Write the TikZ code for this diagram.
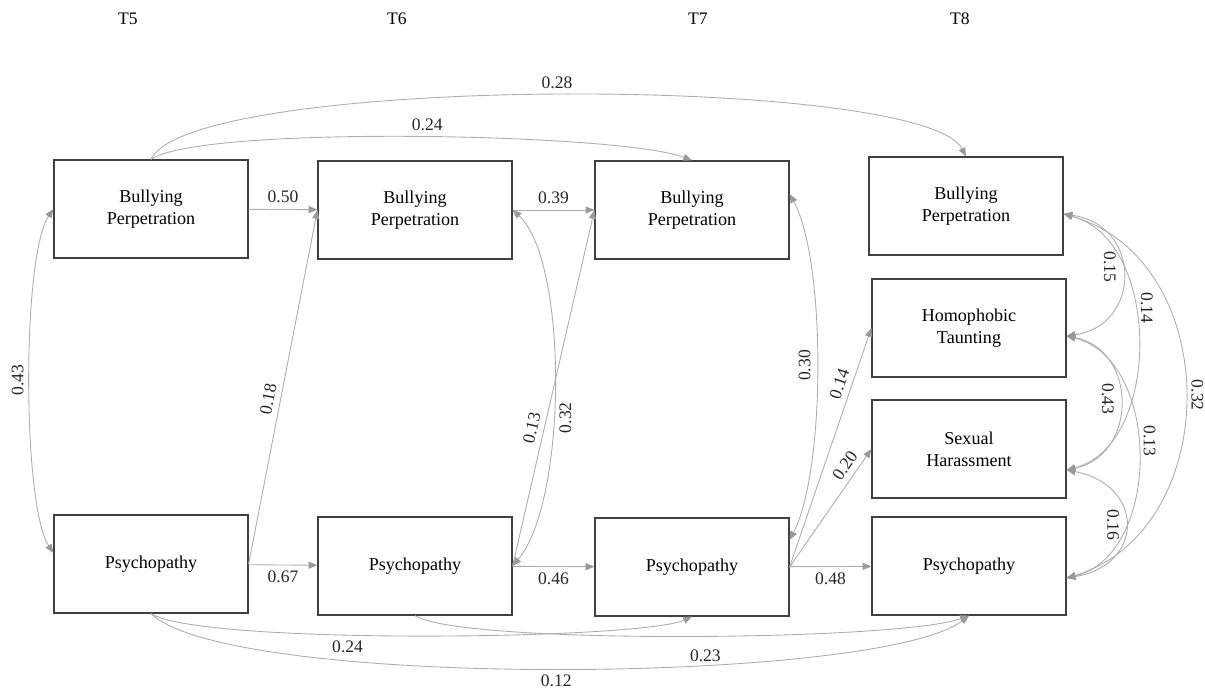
\documentclass[tikz,border=0pt]{standalone}
\usepackage{fontspec}
\setmainfont{Liberation Serif}
\usetikzlibrary{arrows.meta}

\definecolor{pathgray}{HTML}{ADADAD}
\definecolor{tipgray}{HTML}{999999}

\begin{document}
\begin{tikzpicture}[
    x=0.02cm, y=-0.02cm,
    box/.style={
        draw=black!75,
        line width=0.7pt,
        align=center,
        minimum width=3.88cm,
        minimum height=1.96cm,
        inner sep=0pt,
        font=\fontsize{10.3}{12.4}\selectfont
    },
    wave/.style={
        font=\fontsize{10}{12}\selectfont
    },
    coef/.style={
        text=black!85,
        font=\fontsize{10}{12}\selectfont
    },
    arrow/.style={
        -{Triangle[length=5pt,width=4pt,color=tipgray]},
        draw=pathgray,
        line width=0.5pt
    },
    cov/.style={
        {Triangle[length=5pt,width=4pt,color=tipgray]}-{Triangle[length=5pt,width=4pt,color=tipgray]},
        draw=pathgray,
        line width=0.5pt
    }
]

\useasboundingbox (0,0) rectangle (1205,694);

% waves
\node[wave] (t5) at (128,19) {T5};
\node[wave] (t6) at (397,19) {T6};
\node[wave] (t7) at (698,19) {T7};
\node[wave] (t8) at (960,19) {T8};

% T5
\node[box] (bp5) at (151,209) {Bullying\\Perpetration};
\node[box] (ps5) at (151,564) {Psychopathy};

% T6
\node[box] (bp6) at (415,210) {Bullying\\Perpetration};
\node[box] (ps6) at (415,566) {Psychopathy};

% T7
\node[box] (bp7) at (692,210) {Bullying\\Perpetration};
\node[box] (ps7) at (692,567) {Psychopathy};

% T8
\node[box] (bp8) at (966,206) {Bullying\\Perpetration};
\node[box] (ht8) at (969,328) {Homophobic\\Taunting};
\node[box] (sh8) at (969,449) {Sexual\\Harassment};
\node[box] (ps8) at (969,566) {Psychopathy};

% Stability paths
\draw[arrow] (bp5) -- node[coef, above] {0.50} (bp6);
\draw[arrow] (bp6) -- node[coef, above] {0.39} (bp7);
\draw[arrow] (ps5) -- node[coef, below] {0.67} (ps6);
\draw[arrow] (ps6) -- node[coef, below] {0.46} (ps7);
\draw[arrow] (ps7) -- node[coef, below] {0.48} (ps8);

% Cross-lagged paths
\draw[arrow] (ps5.east) -- node[coef, above, sloped, pos=0.46] {0.18} (bp6.west);
\draw[arrow] (ps6.east) -- node[coef, above, sloped, pos=0.38] {0.13} (bp7.west);
\draw[arrow] (ps7.east) -- node[coef, above, sloped, pos=0.75] {0.14} (ht8.west);
\draw[arrow] (ps7.east) -- node[coef, above, sloped, pos=0.8] {0.20} (sh8.west);

% Long lags, top
\draw[arrow] (bp5.north) .. controls (190,74) and (923,74) ..
    node[coef, above, pos=0.5] {0.28} (bp8.north);
\draw[arrow] (bp5.north) .. controls (200,125) and (620,133) ..
    node[coef, above, pos=0.52] {0.24} (bp7.north);

% Long lags, bottom
\draw[arrow] (ps5.south) .. controls (200,645) and (640,640) ..
    node[coef, below, pos=0.4] {0.24} (ps7.south);
\draw[arrow] (ps5.south) .. controls (230,690) and (880,684) ..
    node[coef, below, pos=0.5] {0.12} (ps8.south);
\draw[arrow] (ps6.south) .. controls (460,645) and (900,641) ..
    node[coef, below=4pt, pos=0.53] {0.23} (ps8.south);

% Covariances
\draw[cov] ([yshift=0.22cm]ps5.west) .. controls (22,505) and (22,255) ..
    node[coef, rotate=90, anchor=south, pos=0.5] {0.43} (bp5.west);
\draw[cov] (bp6.east) .. controls (568,260) and (568,500) ..
    node[coef, rotate=90, anchor=north, pos=0.58] {0.32} (ps6.east);
\draw[cov] ([yshift=0.54cm]ps7.east) .. controls (826,470) and (826,260) ..
    node[coef, rotate=90, anchor=south, pos=0.5] {0.30} ([yshift=0.32cm]bp7.east);

% Covariances at T8
\draw[cov] ([yshift=-0.16cm]bp8.east) .. controls (1142,225) and (1142,325) ..
    node[coef, rotate=-90, anchor=north, pos=0.45] {0.15} ([yshift=-0.16cm]ht8.east);
\draw[cov] ([yshift=-0.16cm]bp8.east) .. controls (1162,240) and (1162,445) ..
    node[coef, rotate=-90, anchor=south, pos=0.4] {0.14} ([yshift=-0.42cm]sh8.east);
\draw[cov] ([yshift=-0.16cm]bp8.east) .. controls (1225,260) and (1225,530) ..
    node[coef, rotate=-90, anchor=south, pos=0.5] {0.32} ([yshift=-0.24cm]ps8.east);
\draw[cov] ([yshift=-0.16cm]ht8.east) .. controls (1138,350) and (1138,455) ..
    node[coef, rotate=-90, anchor=north, pos=0.48] {0.43} ([yshift=-0.42cm]sh8.east);
\draw[cov] ([yshift=-0.16cm]ht8.east) .. controls (1162,360) and (1162,555) ..
    node[coef, rotate=-90, anchor=south, pos=0.45] {0.13} ([yshift=-0.24cm]ps8.east);
\draw[cov] ([yshift=-0.42cm]sh8.east) .. controls (1145,485) and (1145,565) ..
    node[coef, rotate=-90, anchor=north, pos=0.5] {0.16} ([yshift=-0.24cm]ps8.east);

\end{tikzpicture}
\end{document}
